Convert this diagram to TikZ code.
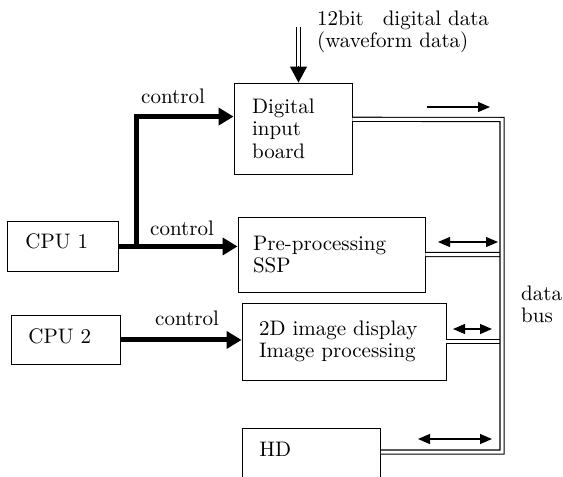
\documentclass[tikz,border=0pt]{standalone}
\usepackage{fontspec}
\setmainfont{lmroman10-regular}[Extension=.otf]
\usetikzlibrary{arrows.meta,calc}
\begin{document}
\begin{tikzpicture}[x=1pt,y=-1pt,
  every node/.style={font=\fontsize{21}{22.5}\selectfont},
  box/.style={draw,line width=0.9pt,rectangle,align=left,inner ysep=0pt},
  lbl/.style={inner sep=0pt,anchor=base west},
  dbl/.style={draw,line width=1.1pt,double,double distance=3pt},
  ctrl/.style={line width=5pt,line join=miter,-{Triangle[length=15pt,width=17pt]}},
  bidir/.style={line width=1.2pt,{Triangle[length=12pt,width=10pt]}-{Triangle[length=12pt,width=10pt]}},
  onedir/.style={line width=1.2pt,-{Triangle[length=12pt,width=10pt]}}]
\useasboundingbox (0,0) rectangle (563,477);
\clip (0,0) rectangle (563,477);
% boxes
\node[box,minimum width=118pt,minimum height=91pt,text width=82pt,inner xsep=18pt] (dib) at (293,128.5) {Digital\\input\\board};
\node[box,anchor=north west,text width=75pt,inner xsep=18pt,text height=27pt,text depth=23pt] (cpu1) at (7,221) {CPU 1};
\node[box,minimum width=187pt,minimum height=75pt,text width=157pt,inner xsep=15pt] (ssp) at (331.5,254.5) {Pre-processing\\SSP};
\node[box,anchor=north west,text width=75pt,inner xsep=17pt,text height=28pt,text depth=21pt] (cpu2) at (11,315) {CPU 2};
\node[box,minimum width=204pt,minimum height=77pt,text width=170pt,inner xsep=17pt] (d2) at (344,341.5) {2D image display\\Image processing};
\node[box,anchor=north west,text width=104pt,inner xsep=17pt,inner ysep=16pt,text height=12pt,text depth=40pt] (hd) at (242,428) {HD};
% bus
\coordinate (busTop) at (502,119.5);
\coordinate (busBot) at (502,452);
\draw[dbl] ($(ssp.north east)!0.5!(ssp.south east)$) -- (busTop |- ssp.east);
\draw[dbl] (d2.east) -- (busTop |- d2.east);
\draw[dbl] ($(dib.north east)!0.4!(dib.south east)$) -- (busTop) -- (busBot) -- (hd.east |- busBot);
% direction arrows
\coordinate (a1) at (427,107); \coordinate (a2) at (490,107);
\draw[onedir] (a1) -- (a2);
\coordinate (b1) at (438,242); \coordinate (b2) at (498,242);
\draw[bidir] (b1) -- (b2);
\coordinate (c1) at (453,329); \coordinate (c2) at (492,329);
\draw[bidir] (c1) -- (c2);
\coordinate (e1) at (418,439); \coordinate (e2) at (492,439);
\draw[bidir] (e1) -- (e2);
% control arrows
\coordinate (split) at (136,246);
\draw[ctrl] (cpu1.east) -- (ssp.west |- cpu1.east);
\draw[ctrl] (split) |- ($(dib.north west)!0.37!(dib.south west)$);
\draw[ctrl] (cpu2.east) -- (d2.west |- cpu2.east);
\node[lbl] (t1) at (141,103) {control};
\node[lbl] (t2) at (150,235) {control};
\node[lbl] (t3) at (155,325) {control};
% input
\coordinate (inTop) at (298.5,27);
\draw[line width=1.1pt,double,double distance=3pt] (inTop) -- (298.5,68);
\draw[line width=1pt,-{Triangle[length=16pt,width=17pt]}] (298.5,66) -- (inTop |- dib.north);
\node[lbl] (in1) at (317,25) {12bit\hspace{0.9em}digital data};
\node[lbl] (in2) at (317,47) {(waveform data)};
% bus label
\node[lbl] (bus1) at (521,300) {data};
\node[lbl] (bus2) at (521,322) {bus};
\end{tikzpicture}
\end{document}
